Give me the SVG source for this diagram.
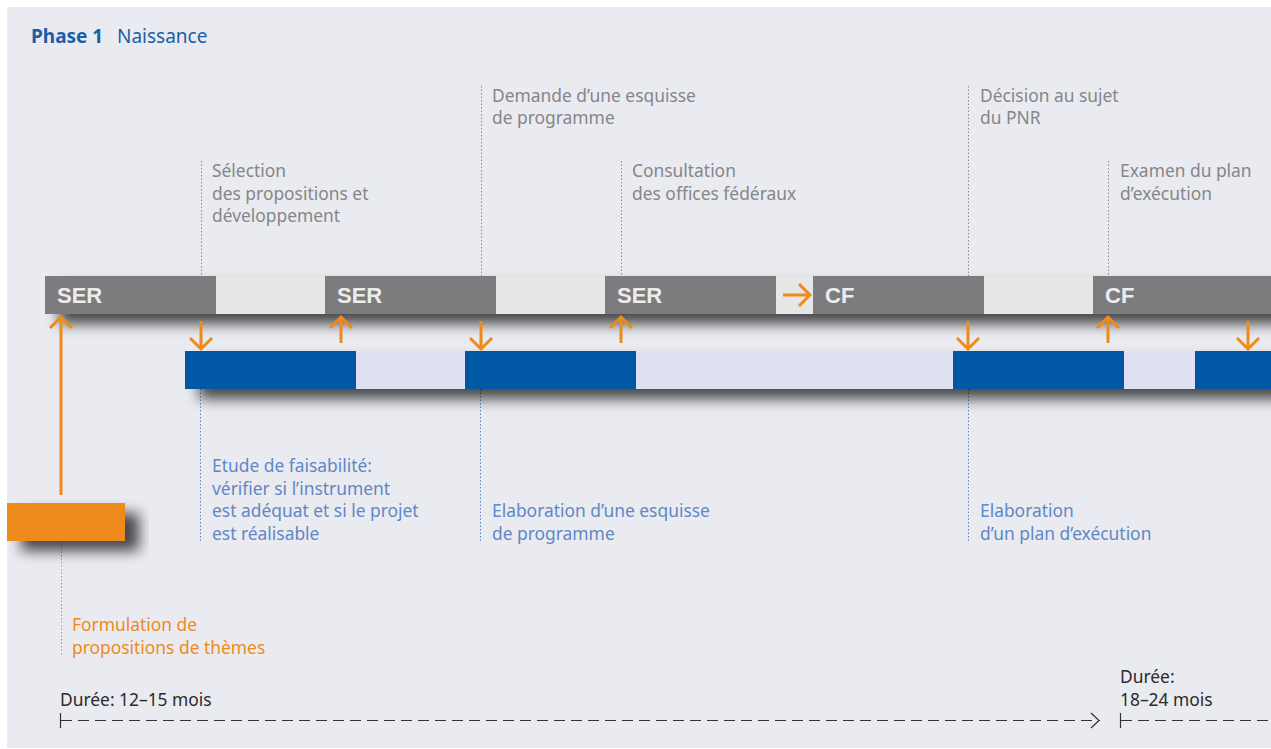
<svg xmlns="http://www.w3.org/2000/svg" width="1271" height="749" viewBox="0 0 1271 749">
<style>
.t{font-family:"Noto Sans","Liberation Sans",Arial,sans-serif;font-size:17.4px}
.g{fill:#858688}
.b{fill:#5f87c6}
.o{fill:#ef8a1a}
.k{fill:#2a2a2a}
.lab{font-family:"Liberation Sans",Arial,sans-serif;font-size:22px;font-weight:bold;fill:#ececec}
.arr{stroke:#ef8a1a;stroke-width:3;fill:none}
.dg{stroke:#8a8a8a;stroke-width:1;stroke-dasharray:1.5 2;fill:none}
.db{stroke:#5f87c6;stroke-width:1;stroke-dasharray:1.5 2;fill:none}
.do{stroke:#ef8a1a;stroke-width:1;stroke-dasharray:1.5 2;fill:none}
.dash{stroke:#333;stroke-width:1.2;stroke-dasharray:11 6;fill:none}
</style>
<defs>
<filter id="sh" x="-10%" y="-50%" width="130%" height="250%">
<feGaussianBlur in="SourceAlpha" stdDeviation="7"/>
<feOffset dx="14" dy="10" result="o"/>
<feComponentTransfer><feFuncA type="linear" slope="0.7"/></feComponentTransfer>
<feMerge><feMergeNode/><feMergeNode in="SourceGraphic"/></feMerge>
</filter>
</defs>
<rect x="0" y="0" width="1271" height="749" fill="#ffffff"/>
<rect x="7" y="7" width="1264" height="741" fill="#eaebf0"/>
<text class="t" x="31" y="43" style="font-size:19px"><tspan font-weight="bold" fill="#1a5ea8">Phase 1</tspan><tspan x="117" fill="#1a5ea8">Naissance</tspan></text>

<g id="leaders">
<line class="dg" x1="201.5" y1="161" x2="201.5" y2="276"/>
<line class="dg" x1="481.5" y1="86" x2="481.5" y2="276"/>
<line class="dg" x1="621.5" y1="161" x2="621.5" y2="276"/>
<line class="dg" x1="968.5" y1="86" x2="968.5" y2="276"/>
<line class="dg" x1="1108.5" y1="161" x2="1108.5" y2="276"/>
<line class="db" x1="200.5" y1="389" x2="200.5" y2="541"/>
<line class="db" x1="480.5" y1="389" x2="480.5" y2="541"/>
<line class="db" x1="968.5" y1="389" x2="968.5" y2="541"/>
<line class="do" x1="61.5" y1="541" x2="61.5" y2="656"/>
</g>

<g id="gray-bar">
<rect x="45" y="276" width="1226" height="38" fill="#7b7c7e" filter="url(#sh)"/>
<rect x="216" y="276" width="109" height="38" fill="#e6e6e6"/>
<rect x="496" y="276" width="109" height="38" fill="#e6e6e6"/>
<rect x="776" y="276" width="37" height="38" fill="#e6e6e6"/>
<rect x="984" y="276" width="109" height="38" fill="#e6e6e6"/>
</g>
<g id="node-ser1"><text class="lab" x="57" y="303">SER</text></g>
<g id="node-ser2"><text class="lab" x="337" y="303">SER</text></g>
<g id="node-ser3"><text class="lab" x="617" y="303">SER</text></g>
<g id="node-cf1"><text class="lab" x="825" y="303">CF</text></g>
<g id="node-cf2"><text class="lab" x="1105" y="303">CF</text></g>

<g id="blue-bar">
<rect x="185" y="351" width="1086" height="38" fill="#dfe1f0" filter="url(#sh)"/>
<rect x="185" y="351" width="171" height="38" fill="#0057a3"/>
<rect x="465" y="351" width="171" height="38" fill="#0057a3"/>
<rect x="953" y="351" width="171" height="38" fill="#0057a3"/>
<rect x="1195" y="351" width="76" height="38" fill="#0057a3"/>
</g>

<g id="node-orange">
<rect x="7" y="503" width="118" height="38" fill="#ef8a1a" filter="url(#sh)"/>
</g>

<g id="connectors">
<path class="arr" d="M61 495V318M50 328L61 317L72 328"/>
<path class="arr" d="M201 321V349M190 338L201 349L212 338"/>
<path class="arr" d="M341 343V318M330 328L341 317L352 328"/>
<path class="arr" d="M481 321V349M470 338L481 349L492 338"/>
<path class="arr" d="M621 343V318M610 328L621 317L632 328"/>
<path class="arr" d="M783 295H810M799 284L810 295L799 306"/>
<path class="arr" d="M968 321V349M957 338L968 349L979 338"/>
<path class="arr" d="M1108 343V318M1097 328L1108 317L1119 328"/>
<path class="arr" d="M1248 321V349M1237 338L1248 349L1259 338"/>
</g>

<g id="labels-top">
<text class="t g" x="212" y="177">Sélection</text>
<text class="t g" x="212" y="200">des propositions et</text>
<text class="t g" x="212" y="222">développement</text>
<text class="t g" x="492" y="102">Demande d’une esquisse</text>
<text class="t g" x="492" y="124">de programme</text>
<text class="t g" x="632" y="177">Consultation</text>
<text class="t g" x="632" y="200">des offices fédéraux</text>
<text class="t g" x="980" y="102">Décision au sujet</text>
<text class="t g" x="980" y="124">du PNR</text>
<text class="t g" x="1120" y="177">Examen du plan</text>
<text class="t g" x="1120" y="200">d’exécution</text>
</g>

<g id="labels-bottom">
<text class="t b" x="212" y="472">Etude de faisabilité:</text>
<text class="t b" x="212" y="495">vérifier si l’instrument</text>
<text class="t b" x="212" y="517">est adéquat et si le projet</text>
<text class="t b" x="212" y="540">est réalisable</text>
<text class="t b" x="492" y="517">Elaboration d’une esquisse</text>
<text class="t b" x="492" y="540">de programme</text>
<text class="t b" x="980" y="517">Elaboration</text>
<text class="t b" x="980" y="540">d’un plan d’exécution</text>
<text class="t o" x="72" y="631">Formulation de</text>
<text class="t o" x="72" y="654">propositions de thèmes</text>
</g>

<g id="duration">
<text class="t k" x="60" y="706">Durée: 12–15 mois</text>
<line x1="60.5" y1="713" x2="60.5" y2="728" stroke="#333" stroke-width="1.2"/>
<line class="dash" x1="61" y1="720.5" x2="1100" y2="720.5"/>
<path d="M1091 713L1099 720.5L1091 728" stroke="#333" stroke-width="1.2" fill="none"/>
<text class="t k" x="1120" y="683">Durée:</text>
<text class="t k" x="1120" y="706">18–24 mois</text>
<line x1="1120.5" y1="713" x2="1120.5" y2="728" stroke="#333" stroke-width="1.2"/>
<line class="dash" x1="1121" y1="720.5" x2="1271" y2="720.5"/>
</g>
</svg>
